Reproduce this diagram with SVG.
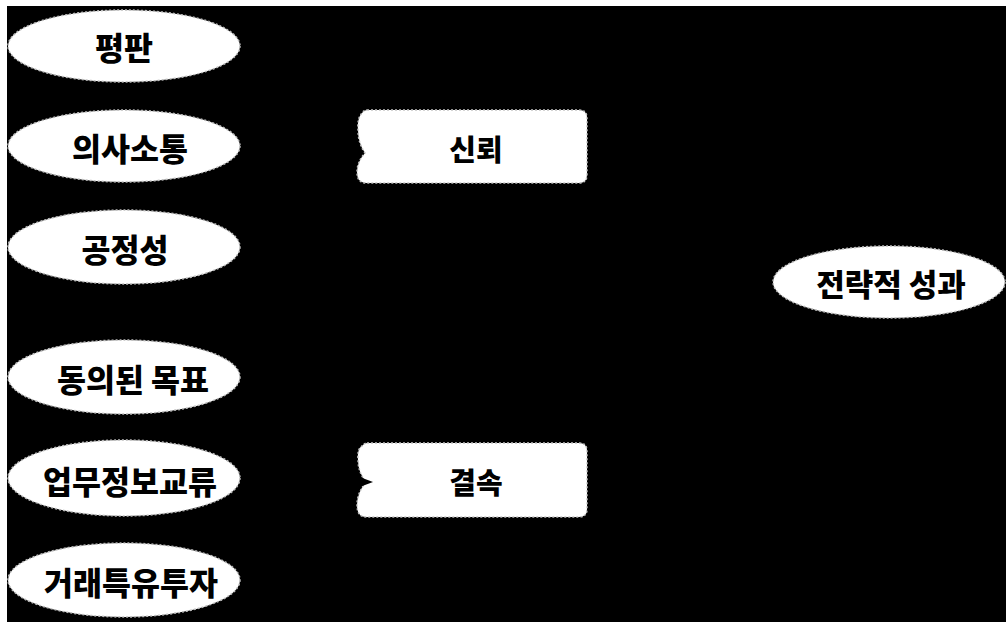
<svg xmlns="http://www.w3.org/2000/svg" width="1006" height="622" viewBox="0 0 1006 622">
<style>
.ell{fill:#ffffff;stroke:#bdbdbd;stroke-width:1.5;stroke-dasharray:2 2}
.box{fill:#ffffff;stroke:#c4c4c4;stroke-width:1.5;stroke-dasharray:2 2}
.t{font-family:"Noto Sans CJK KR","Noto Sans",sans-serif;font-weight:900;fill:#000;text-anchor:middle;dominant-baseline:central}
.l{font-size:31.5px}
.m{font-size:29px}
.r{font-size:31px}
</style>
<rect x="0" y="0" width="1006" height="622" fill="#ffffff"/>
<rect x="7" y="6" width="999" height="616" fill="#000000"/>
<g id="n-pyeongpan"><ellipse class="ell" cx="124" cy="46" rx="116" ry="36"/><text class="t l" x="124" y="46">평판</text></g>
<g id="n-uisasotong"><ellipse class="ell" cx="124" cy="146" rx="116" ry="36"/><text class="t l" x="130" y="147">의사소통</text></g>
<g id="n-gongjeongseong"><ellipse class="ell" cx="124" cy="247" rx="116" ry="37"/><text class="t l" x="125" y="248">공정성</text></g>
<g id="n-dongui"><ellipse class="ell" cx="124" cy="377" rx="116" ry="37"/><text class="t l" x="133" y="378">동의된 목표</text></g>
<g id="n-eopmu"><ellipse class="ell" cx="124" cy="478" rx="116" ry="38"/><text class="t l" x="130" y="480">업무정보교류</text></g>
<g id="n-georae"><ellipse class="ell" cx="124" cy="580" rx="116" ry="37"/><text class="t l" x="131" y="581">거래특유투자</text></g>
<g id="n-sinroe"><path class="box" d="M367,110 H579 Q587,110 587,118 V175 Q587,183 579,183 H366 Q357,183 357,172 Q357,162 365,153 Q358,143 358,130 Q357,118 362,113 Q364,110 367,110 Z"/><text class="t m" x="476" y="148">신뢰</text></g>
<g id="n-gyeolsok"><path class="box" d="M367,443 H579 Q587,443 587,451 V509 Q587,517 579,517 H366 Q357,517 357,505 Q357,493 366,482 Q358,472 358,460 Q357,449 362,446 Q364,443 367,443 Z"/><text class="t m" x="476" y="481">결속</text></g>
<g id="n-jeollyak"><ellipse class="ell" cx="889" cy="282" rx="116" ry="36"/><text class="t r" x="891" y="282">전략적 성과</text></g>
<g id="connectors">
<polygon points="357,476 373,482 357,488" fill="#000000"/>
</g>
</svg>
